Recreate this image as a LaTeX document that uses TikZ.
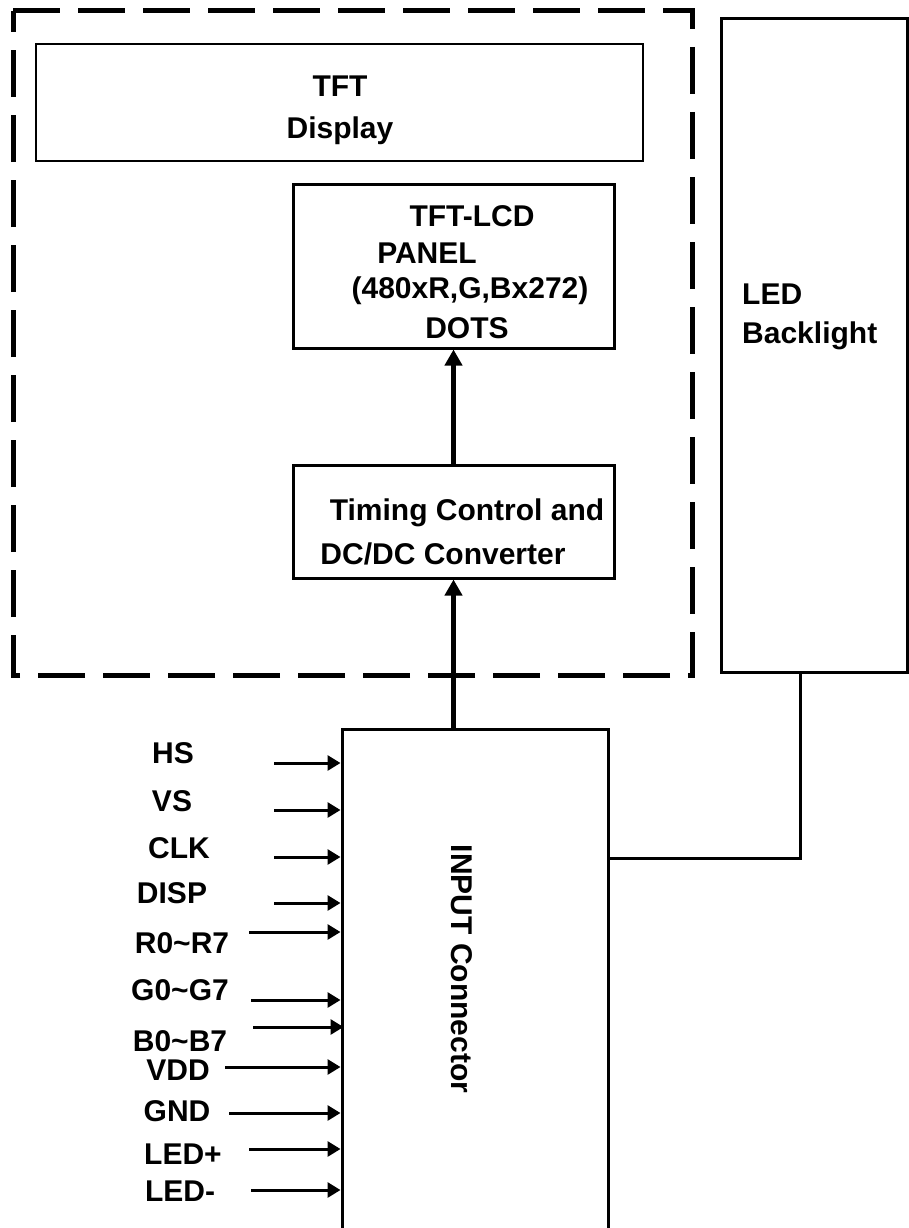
\documentclass[tikz,border=0pt]{standalone}
\usepackage{fontspec}
\setmainfont{Liberation Sans}
\usetikzlibrary{arrows.meta,calc}
\begin{document}
\begin{tikzpicture}[x=1pt,y=-1pt,
  txt/.style={font=\fontsize{30}{35}\selectfont\bfseries, inner sep=0pt},
  thinbox/.style={draw, line width=1.5pt, inner sep=0pt},
  blockbox/.style={draw, line width=3pt, inner sep=0pt},
  bigarrow/.style={line width=5pt, -{Triangle[length=16pt,width=17pt]}},
  sig/.style={line width=3pt, -{Triangle[length=13pt,width=15pt]}},
  wire/.style={line width=3pt}
]
\useasboundingbox (0,0) rectangle (908,1228);
% dashed outline
\draw[line width=5pt, dash pattern=on 47pt off 18pt] (13,11) -- (692,11) -- (692,675) -- (13,675) -- cycle;

% boxes
\node[thinbox, minimum width=607pt, minimum height=117pt] (disp) at (339.5,102.5) {};
\node[blockbox, minimum width=321pt, minimum height=164pt] (panel) at (453.5,266) {};
\node[blockbox, minimum width=321pt, minimum height=113pt] (timing) at (453.5,521.5) {};
\node[blockbox, minimum width=186pt, minimum height=653pt] (led) at (814,345.5) {};
\node[blockbox, minimum width=266pt, minimum height=540pt] (conn) at (475,999) {};

% texts
\node[txt] (t1) at (340,86) {TFT};
\node[txt] (t2) at (340,131) {Display};
\node[txt] (p1) at (472,216) {TFT-LCD};
\node[txt] (p2) at (427,253) {PANEL};
\node[txt] (p3) at (470,291) {(480xR,G,Bx272)};
\node[txt] (p4) at (467,328) {DOTS};
\node[txt] (m1) at (467,513) {Timing Control and};
\node[txt] (m2) at (443,554) {DC/DC Converter};
\node[txt, anchor=west] (l1) at (742,294) {LED};
\node[txt, anchor=west] (l2) at (742,336) {Backlight};
\node[txt, rotate=-90] (cl) at (462,969) {INPUT Connector};

% main arrows
\draw[bigarrow] (timing.north) -- (panel.south);
\draw[bigarrow] (conn.north -| timing.south) -- (timing.south);

% connector to backlight
\coordinate (jn) at (800,858);
\draw[wire] (conn.east |- jn) -- (jn) -- (jn |- led.south);

% signal labels
\node[txt] (hs) at (173,753) {HS};
\node[txt] (vs) at (172,801) {VS};
\node[txt] (clk) at (179,848) {CLK};
\node[txt] (dsp) at (172,893) {DISP};
\node[txt] (r) at (182,943) {R0\textasciitilde R7};
\node[txt] (g) at (180,990) {G0\textasciitilde G7};
\node[txt] (b) at (180,1041) {B0\textasciitilde B7};
\node[txt] (vdd) at (178,1070) {VDD};
\node[txt] (gnd) at (177,1111) {GND};
\node[txt] (lp) at (183,1154) {LED+};
\node[txt] (lm) at (180,1191) {LED-};

% signal arrows
\coordinate (shs) at (274,763);
\coordinate (svs) at (274,810);
\coordinate (sclk) at (274,857);
\coordinate (sdsp) at (274,903);
\coordinate (sr) at (249,932);
\coordinate (sg) at (251,1000);
\coordinate (sb) at (253,1027);
\coordinate (svdd) at (225,1067);
\coordinate (sgnd) at (229,1113);
\coordinate (slp) at (249,1149);
\coordinate (slm) at (251,1190);
\foreach \s in {shs,svs,sclk,sdsp,sr,sg,svdd,sgnd,slp,slm}
  \draw[sig] (\s) -- (\s -| conn.west);
\draw[sig] (sb) -- ($(sb -| conn.west)+(3,0)$);
\end{tikzpicture}
\end{document}
